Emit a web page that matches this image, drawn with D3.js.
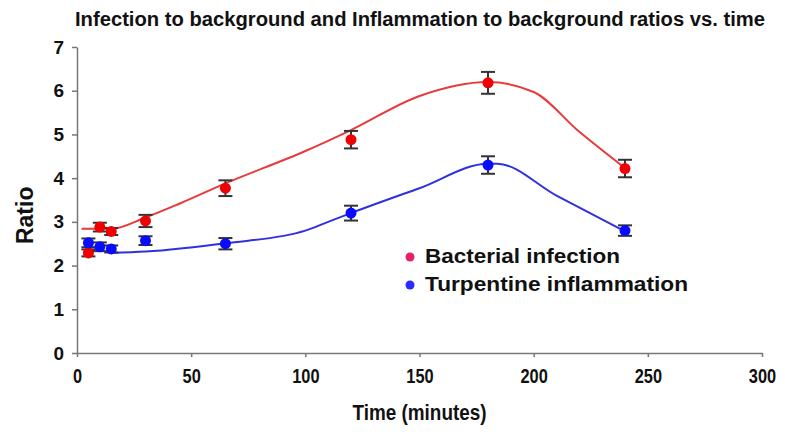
<!DOCTYPE html>
<html>
<head>
<meta charset="utf-8">
<script src="https://cdn.jsdelivr.net/npm/d3@7"></script>
<style>
  body { margin: 0; background: #fff; }
  #wrapper { width: 785px; height: 434px; }
  text { fill: #111; }
</style>
</head>
<body>
<div id="wrapper"></div>
<script>
// measured points (time in minutes)
const times = [5, 10, 15, 30, 65, 120, 180, 240];
const bacterial = [2.29, 2.88, 2.78, 3.02, 3.77, 4.88, 6.18, 4.22];
const bacterialErr = [0.08, 0.1, 0.08, 0.14, 0.18, 0.2, 0.25, 0.2];
const turpentine = [2.52, 2.43, 2.38, 2.57, 2.5, 3.2, 4.3, 2.8];
const turpentineErr = [0.1, 0.1, 0.08, 0.1, 0.13, 0.17, 0.2, 0.12];

// fitted curves
const bacterialFitT = [2, 15, 30, 45, 65, 100, 120, 150, 180, 200, 220, 240];
const bacterialFitV = [2.84, 2.84, 3.1, 3.42, 3.88, 4.62, 5.1, 5.88, 6.2, 5.97, 5.06, 4.23];
const turpentineFitT = [15, 30, 65, 100, 110, 120, 150, 180, 184, 210, 240];
const turpentineFitV = [2.29, 2.32, 2.51, 2.8, 3.0, 3.2, 3.77, 4.33, 4.33, 3.6, 2.78];

const xTicks = [0, 50, 100, 150, 200, 250, 300];
const yTicks = [0, 1, 2, 3, 4, 5, 6, 7];
const legendLabels = ["Bacterial infection", "Turpentine inflammation"];
const chartTitle = "Infection to background and Inflammation to background ratios vs. time";

const dimension = {
    width: 785,
    height: 434,
    margin: { top: 47, left: 77, bottom: 81, right: 23 }
};
dimension.boundedWidth = dimension.width - dimension.margin.left - dimension.margin.right;
dimension.boundedHeight = dimension.height - dimension.margin.top - dimension.margin.bottom;

const svg = d3.select("#wrapper").append("svg")
    .attr("width", dimension.width)
    .attr("height", dimension.height);

const xScale = d3.scaleLinear()
    .domain([0, 300])
    .range([dimension.margin.left, dimension.margin.left + dimension.boundedWidth]);
const yScale = d3.scaleLinear()
    .domain([0, 7])
    .range([dimension.margin.top + dimension.boundedHeight, dimension.margin.top]);

const font = "'Liberation Sans', Arial, sans-serif";

// title (condensed look via textLength)
svg.append("text")
    .attr("x", 75).attr("y", 26)
    .attr("textLength", 690).attr("lengthAdjust", "spacingAndGlyphs")
    .style("font-family", font)
    .style("font-weight", "bold")
    .style("font-size", "20px")
    .text(chartTitle);

// axes
const yAxis = svg.append("g")
    .attr("transform", `translate(${dimension.margin.left},0)`)
    .call(d3.axisLeft(yScale).tickValues(yTicks).tickFormat(d3.format("d")).tickSizeInner(5).tickSizeOuter(0).tickPadding(8));
yAxis.selectAll("text")
    .style("font-family", font).style("font-weight", "bold").style("font-size", "19px").attr("fill", "#222");

const xAxis = svg.append("g")
    .attr("transform", `translate(0,${yScale(0)})`)
    .call(d3.axisBottom(xScale).tickValues(xTicks).tickFormat(d3.format("d")).tickSizeInner(4).tickSizeOuter(0).tickPadding(12));
xAxis.selectAll("text")
    .attr("transform", "scale(0.82,1)")
    .style("font-family", font).style("font-weight", "bold").style("font-size", "20px").attr("fill", "#222");

svg.selectAll(".domain, .tick line").attr("stroke", "#777").attr("stroke-width", 1.5);

// axis titles
svg.append("text")
    .attr("transform", `translate(33,${yScale(3.15)}) rotate(-90)`)
    .attr("text-anchor", "middle")
    .style("font-family", font).style("font-weight", "bold").style("font-size", "23px")
    .text("Ratio");

svg.append("text")
    .attr("transform", `translate(${xScale(150)},420) scale(0.86,1)`)
    .attr("text-anchor", "middle")
    .style("font-family", font).style("font-weight", "bold").style("font-size", "22px")
    .text("Time (minutes)");

// fitted lines
const line = d3.line()
    .x(d => xScale(d[0]))
    .y(d => yScale(d[1]))
    .curve(d3.curveMonotoneX);

svg.append("path")
    .datum(d3.zip(bacterialFitT, bacterialFitV))
    .attr("d", line)
    .attr("fill", "none").attr("stroke", "#e83a3a").attr("stroke-width", 2);

svg.append("path")
    .datum(d3.zip(turpentineFitT, turpentineFitV))
    .attr("d", line)
    .attr("fill", "none").attr("stroke", "#3030e0").attr("stroke-width", 2);

// error bars and markers
function drawSeries(values, errs, color) {
    const pts = d3.zip(times, values, errs);
    const g = svg.append("g");
    const eb = g.selectAll(".eb").data(pts).join("g").attr("stroke", "#333").attr("stroke-width", 2);
    eb.append("line")
        .attr("x1", d => xScale(d[0])).attr("x2", d => xScale(d[0]))
        .attr("y1", d => yScale(d[1] + d[2])).attr("y2", d => yScale(d[1] - d[2]));
    eb.append("line")
        .attr("x1", d => xScale(d[0]) - 7).attr("x2", d => xScale(d[0]) + 7)
        .attr("y1", d => yScale(d[1] + d[2])).attr("y2", d => yScale(d[1] + d[2]));
    eb.append("line")
        .attr("x1", d => xScale(d[0]) - 7).attr("x2", d => xScale(d[0]) + 7)
        .attr("y1", d => yScale(d[1] - d[2])).attr("y2", d => yScale(d[1] - d[2]));
    g.selectAll("circle").data(pts).join("circle")
        .attr("cx", d => xScale(d[0])).attr("cy", d => yScale(d[1]))
        .attr("r", 5.5).attr("fill", color);
}
drawSeries(bacterial, bacterialErr, "#f00000");
drawSeries(turpentine, turpentineErr, "#0a0aff");

// legend
const legendColors = ["#e8206a", "#2a2aff"];
const legendWidths = [195, 263];
const legend = svg.append("g").attr("transform", "translate(410,257)");
legendLabels.forEach((label, i) => {
    legend.append("circle").attr("cx", 0).attr("cy", i * 28).attr("r", 4.5).attr("fill", legendColors[i]);
    legend.append("text")
        .attr("x", 15).attr("y", i * 28 + 6)
        .attr("textLength", legendWidths[i]).attr("lengthAdjust", "spacingAndGlyphs")
        .style("font-family", font).style("font-weight", "bold").style("font-size", "20px")
        .text(label);
});
</script>
</body>
</html>
